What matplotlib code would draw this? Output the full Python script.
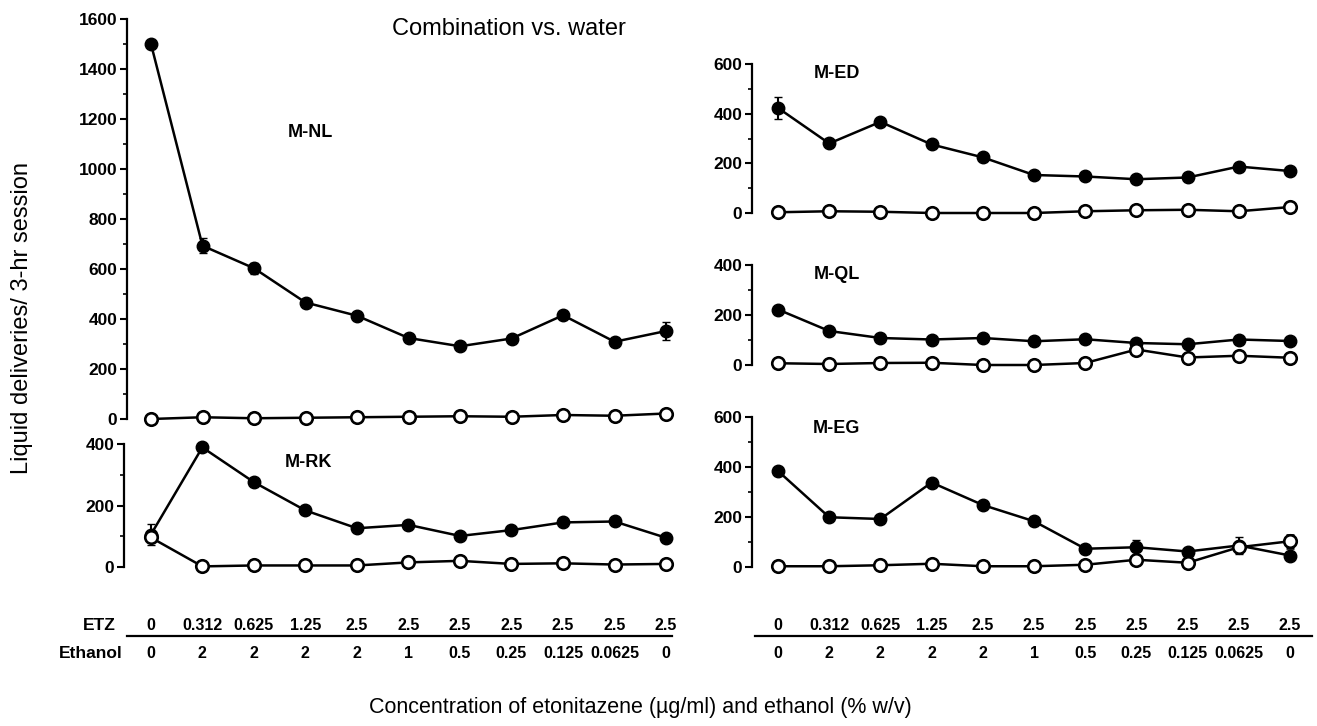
import matplotlib
matplotlib.use('Agg')
import matplotlib.pyplot as plt
from matplotlib.lines import Line2D
from matplotlib.ticker import MultipleLocator

plt.rcParams['font.family'] = ['Liberation Sans', 'DejaVu Sans']

W, H = 1317, 726

# concentrations (table under the x axis)
etz = ['0', '0.312', '0.625', '1.25', '2.5', '2.5', '2.5', '2.5', '2.5', '2.5', '2.5']
ethanol = ['0', '2', '2', '2', '2', '1', '0.5', '0.25', '0.125', '0.0625', '0']
steps = list(range(len(etz)))

# M-NL
nl_comb = [1500, 693, 603, 466, 413, 324, 291, 322, 415, 309, 352]
nl_comb_err = [0, 30, 22, 0, 0, 0, 0, 0, 0, 0, 35]
nl_water = [0, 7, 3, 5, 7, 9, 11, 9, 16, 13, 22]
nl_water_err = [0] * 11

# M-RK
rk_comb = [105, 389, 276, 184, 126, 137, 101, 120, 145, 148, 95]
rk_comb_err = [35, 0, 0, 0, 0, 0, 0, 0, 0, 0, 0]
rk_water = [96, 2, 5, 5, 5, 15, 20, 10, 12, 8, 10]
rk_water_err = [0] * 11

# M-ED
ed_comb = [423, 280, 367, 276, 224, 153, 147, 136, 143, 187, 169]
ed_comb_err = [45, 0, 0, 0, 0, 0, 0, 0, 0, 0, 0]
ed_water = [3, 7, 5, 0, 0, 0, 7, 11, 13, 7, 24]
ed_water_err = [0] * 11

# M-QL
ql_comb = [222, 136, 108, 102, 108, 95, 103, 88, 83, 102, 96]
ql_comb_err = [15, 0, 0, 0, 0, 0, 0, 0, 0, 0, 0]
ql_water = [7, 4, 8, 9, 0, 0, 8, 62, 30, 37, 29]
ql_water_err = [0] * 11

# M-EG
eg_comb = [384, 199, 192, 338, 248, 183, 73, 79, 62, 86, 46]
eg_comb_err = [0, 0, 0, 0, 0, 0, 0, 30, 0, 35, 0]
eg_water = [3, 3, 7, 13, 3, 3, 9, 29, 17, 79, 103]
eg_water_err = [0, 0, 0, 0, 0, 0, 0, 0, 0, 20, 25]


def box(l, t, r, b):
    return [l / W, 1 - b / H, (r - l) / W, (b - t) / H]


fig = plt.figure(figsize=(W / 100, H / 100), dpi=100)


def panel(rect, xlim, comb, comb_err, water, water_err, ymax, name, name_xy):
    ax = fig.add_axes(rect)
    ax.errorbar(steps, comb, yerr=comb_err, fmt='-o', color='black', lw=1.8,
                ms=9, mfc='black', mec='black', elinewidth=1.5, capsize=3,
                clip_on=False, zorder=3)
    ax.errorbar(steps, water, yerr=water_err, fmt='-o', color='black', lw=1.8,
                ms=9, mfc='white', mec='black', mew=1.9, elinewidth=1.5,
                capsize=3, clip_on=False, zorder=4)
    ax.set_xlim(*xlim)
    ax.set_ylim(0, ymax)
    for s in ['top', 'right', 'bottom']:
        ax.spines[s].set_visible(False)
    ax.spines['left'].set_linewidth(1.6)
    ax.set_xticks([])
    ax.yaxis.set_major_locator(MultipleLocator(200))
    ax.yaxis.set_minor_locator(MultipleLocator(100))
    ax.tick_params(axis='y', which='major', direction='out', length=5, width=1.5,
                   labelsize=12.5, pad=2)
    ax.tick_params(axis='y', which='minor', direction='out', length=3, width=1.2)
    for lab in ax.get_yticklabels():
        lab.set_fontweight('bold')
    ax.set_facecolor('none')
    ax.text(name_xy[0], name_xy[1], name, fontsize=13, fontweight='bold',
            ha='center', va='center')
    return ax


left_x = (-0.466, 10.27)
right_x = (-0.508, 10.39)

ax_nl = panel(box(127, 19, 680, 419), left_x, nl_comb, nl_comb_err,
              nl_water, nl_water_err, 1600, 'M-NL', (3.1, 1145))
ax_rk = panel(box(124, 444, 680, 567), (-0.52, 10.27), rk_comb, rk_comb_err,
              rk_water, rk_water_err, 400, 'M-RK', (3.05, 340))
ax_ed = panel(box(752, 64, 1310, 213), right_x, ed_comb, ed_comb_err,
              ed_water, ed_water_err, 600, 'M-ED', (1.15, 560))
ax_ql = panel(box(752, 265, 1310, 365), right_x, ql_comb, ql_comb_err,
              ql_water, ql_water_err, 400, 'M-QL', (1.15, 363))
ax_eg = panel(box(752, 417, 1310, 567), right_x, eg_comb, eg_comb_err,
              eg_water, eg_water_err, 600, 'M-EG', (1.15, 555))

ax_nl.text(6.95, 1560, 'Combination vs. water', fontsize=17, ha='center', va='center')

# concentration table under the bottom panels
for ax, x0, x1 in [(ax_rk, 127, 672), (ax_eg, 755, 1312)]:
    tr = ax.get_xaxis_transform()
    for i in steps:
        ax.annotate(etz[i], xy=(i, 0), xycoords=tr, xytext=(0, -58),
                    textcoords='offset pixels', ha='center', va='center',
                    fontsize=11.5, fontweight='bold', annotation_clip=False)
        ax.annotate(ethanol[i], xy=(i, 0), xycoords=tr, xytext=(0, -87),
                    textcoords='offset pixels', ha='center', va='center',
                    fontsize=11.5, fontweight='bold', annotation_clip=False)
    fig.add_artist(Line2D([x0 / W, x1 / W], [1 - 636 / H, 1 - 636 / H],
                          color='black', lw=1.6, transform=fig.transFigure))

fig.text(116 / W, 1 - 626 / H, 'ETZ', fontsize=12.5, fontweight='bold',
         ha='right', va='center')
fig.text(123 / W, 1 - 654 / H, 'Ethanol', fontsize=12.5, fontweight='bold',
         ha='right', va='center')

fig.text(22 / W, 1 - 318 / H, 'Liquid deliveries/ 3-hr session', fontsize=17,
         rotation=90, ha='center', va='center')
fig.text(640 / W, 1 - 708 / H,
         'Concentration of etonitazene (\u00b5g/ml) and ethanol (% w/v)',
         fontsize=15.5, ha='center', va='center')

fig.savefig('out.png', dpi=100)
